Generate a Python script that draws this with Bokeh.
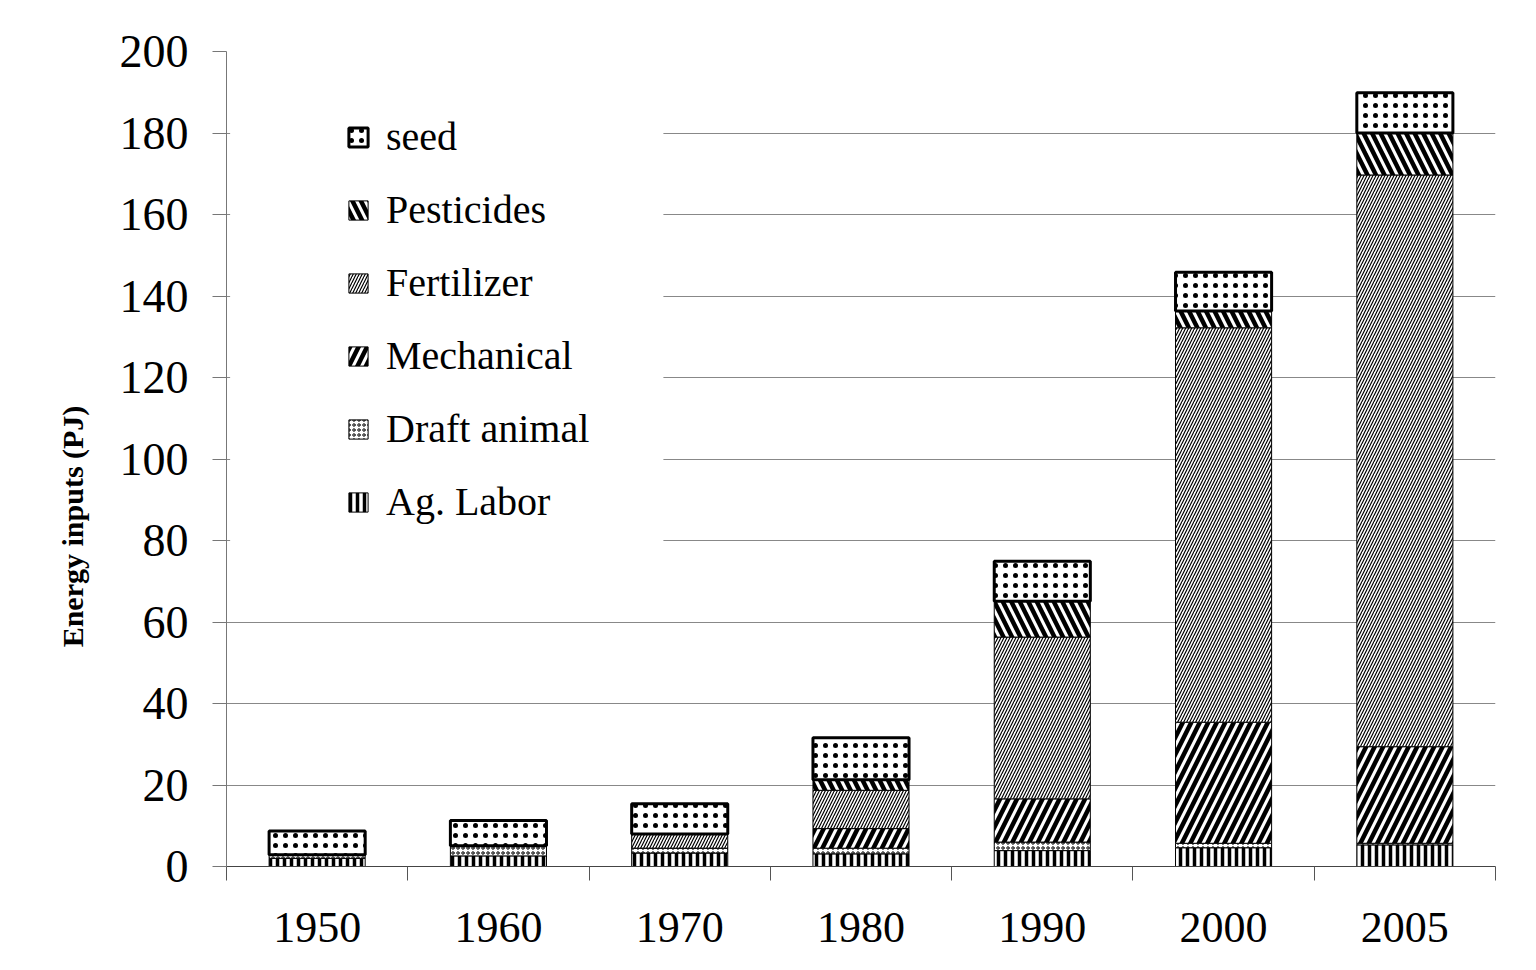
from bokeh.plotting import figure
from bokeh.models import (ColumnDataSource, Range1d, FixedTicker, Legend, LegendItem,
                          BoxAnnotation)
from bokeh.embed import file_html
from bokeh.resources import INLINE

years = ["1950", "1960", "1970", "1980", "1990", "2000", "2005"]
ag_labor = [2.0, 2.6, 3.3, 3.1, 3.9, 4.6, 5.3]
draft_animal = [0.9, 2.5, 1.2, 1.4, 2.1, 1.1, 0.4]
mechanical = [0.0, 0.0, 0.0, 4.8, 10.6, 29.7, 23.7]
fertilizer = [0.0, 0.0, 3.5, 9.4, 39.7, 96.8, 140.3]
pesticides = [0.0, 0.0, 0.0, 2.6, 8.8, 4.1, 10.3]
seed = [5.8, 6.2, 7.4, 10.3, 9.8, 9.5, 9.9]

series_names = ["Ag. Labor", "Draft animal", "Mechanical", "Fertilizer", "Pesticides", "seed"]
y_ticks = list(range(0, 201, 20))

xs = [i + 0.5 for i in range(len(years))]
keys = ["labor", "draft", "mech", "fert", "pest", "seed"]
src = ColumnDataSource(dict(x=xs, labor=ag_labor, draft=draft_animal, mech=mechanical,
                            fert=fertilizer, pest=pesticides, seed=seed))

p = figure(width=1520, height=954, output_backend="svg", toolbar_location=None,
           x_range=Range1d(0, len(years)), y_range=Range1d(0, 200),
           min_border_left=226, min_border_right=25, min_border_top=51, min_border_bottom=88)
p.outline_line_color = None
p.background_fill_color = "white"
p.border_fill_color = "white"

serif = "Liberation Serif"

# background behind legend (covers gridlines)
p.add_layout(BoxAnnotation(left=0.02, right=2.41, top=190, bottom=76, fill_color="white",
                           fill_alpha=1.0, line_color=None, level="underlay"))

patterns = ["|", "o", "/", "/", "\\", "."]
scales = [7, 5, 17, 6, 17, 10]
weights = [3.5, 1.0, 4.5, 1.2, 4.5, 1.0]
lwidths = [1, 1, 1, 1, 1, 3]

renderers = p.vbar_stack(keys, x="x", width=0.53, source=src,
                         fill_color="white", line_color="black",
                         hatch_color="black",
                         hatch_pattern=patterns, hatch_scale=scales, hatch_weight=weights,
                         line_width=lwidths)

items = [LegendItem(label=n, renderers=[r]) for n, r in zip(series_names, renderers)]
legend = Legend(items=list(reversed(items)), location=(120, 341))
legend.background_fill_alpha = 0
legend.border_line_color = None
legend.glyph_width = 24
legend.glyph_height = 24
legend.label_standoff = 16
legend.label_text_font = serif
legend.label_text_font_size = "40px"
legend.label_text_color = "black"
legend.label_height = 30
legend.spacing = 26
legend.padding = 10
legend.margin = 0
p.add_layout(legend, "center")

# axes
xa = p.xaxis[0]
xa.ticker = FixedTicker(ticks=xs, minor_ticks=list(range(0, len(years) + 1)))
xa.major_label_overrides = {x: y for x, y in zip(xs, years)}
xa.major_tick_out = 0
xa.major_tick_in = 0
xa.minor_tick_out = 14
xa.minor_tick_in = 0
xa.minor_tick_line_color = "#555555"
xa.axis_line_color = "#444444"
xa.major_label_text_font = serif
xa.major_label_text_font_size = "44px"
xa.major_label_text_color = "black"
xa.major_label_standoff = 32

ya = p.yaxis[0]
ya.ticker = FixedTicker(ticks=y_ticks, minor_ticks=[])
ya.major_tick_out = 14
ya.major_tick_in = 0
ya.major_tick_line_color = "#777777"
ya.axis_line_color = "#777777"
ya.major_label_text_font = serif
ya.major_label_text_font_size = "46px"
ya.major_label_text_color = "black"
ya.major_label_standoff = 24
ya.axis_label = "Energy inputs (PJ)" + "\u00a0" * 18
ya.axis_label_text_font = serif
ya.axis_label_text_font_style = "bold"
ya.axis_label_text_font_size = "30px"
ya.axis_label_text_color = "black"
ya.axis_label_standoff = 28

p.xgrid.grid_line_color = None
p.ygrid.grid_line_color = "#888888"
p.ygrid.grid_line_width = 1

open("out.html", "w").write(file_html(p, INLINE))
